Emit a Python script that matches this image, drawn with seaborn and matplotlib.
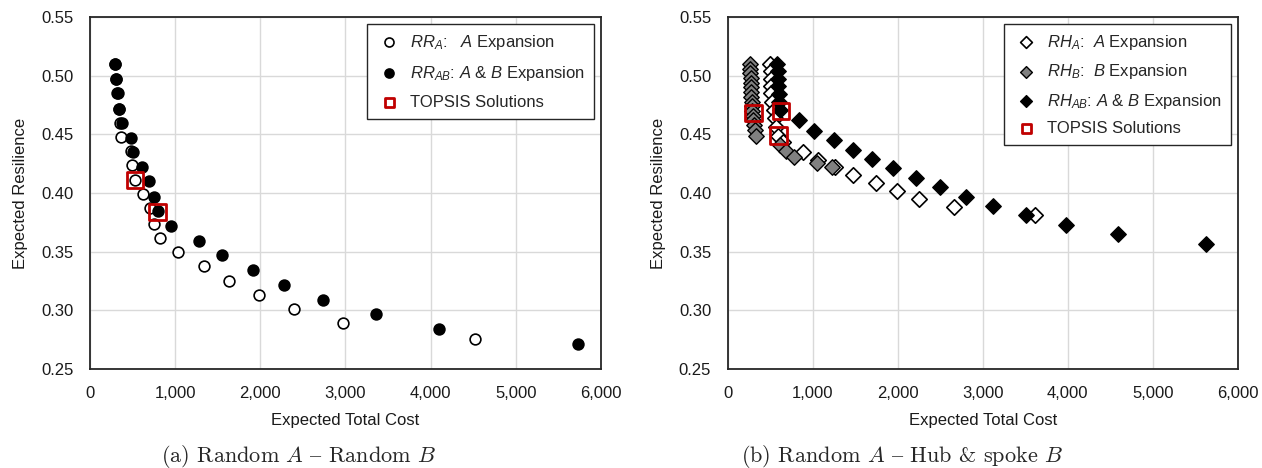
import numpy as np
import pandas as pd
import matplotlib
matplotlib.use("Agg")
import matplotlib.pyplot as plt
from matplotlib.ticker import FuncFormatter, MultipleLocator
import seaborn as sns


# (a) Random A - Random B
rr_a_cost = [296, 303, 315, 335, 355, 369, 482, 498, 529, 627,
             706, 753, 824, 1035, 1333, 1635, 1988, 2392, 2976, 4520]
rr_a_res = [0.510, 0.497, 0.485, 0.472, 0.460, 0.448, 0.436, 0.424, 0.411, 0.399,
            0.387, 0.374, 0.362, 0.350, 0.3375, 0.325, 0.313, 0.301, 0.289, 0.276]

rr_ab_cost = [298, 310, 325, 345, 376, 486, 510, 612, 690, 749,
              800, 957, 1275, 1549, 1914, 2276, 2737, 3353, 4094, 5728]
rr_ab_res = [0.510, 0.497, 0.485, 0.472, 0.460, 0.447, 0.435, 0.422, 0.410, 0.397,
             0.385, 0.372, 0.359, 0.347, 0.334, 0.3217, 0.309, 0.2967, 0.284, 0.271]

topsis_a_cost = [529, 792]
topsis_a_res = [0.411, 0.384]

# (b) Random A - Hub & spoke B
rh_a_cost = [500, 505, 508, 510, 512, 518, 540, 555, 572, 594,
             650, 882, 1066, 1263, 1475, 1742, 1989, 2252, 2656, 3610]
rh_a_res = [0.510, 0.504, 0.4976, 0.491, 0.485, 0.478, 0.471, 0.4636, 0.4565, 0.449,
            0.4437, 0.435, 0.428, 0.422, 0.415, 0.4086, 0.4018, 0.3947, 0.388, 0.381]

rh_b_cost = [262, 264, 266, 268, 270, 272, 275, 278, 282, 286,
             290, 296, 302, 310, 320, 332, 615, 682, 776, 1054, 1223]
rh_b_res = [0.510, 0.506, 0.502, 0.498, 0.494, 0.490, 0.486, 0.482, 0.478, 0.474,
            0.470, 0.466, 0.462, 0.458, 0.454, 0.449, 0.441, 0.4355, 0.4307, 0.426, 0.422]

rh_ab_cost = [575, 585, 590, 595, 600, 605, 615, 835, 1015, 1247,
              1475, 1702, 1942, 2220, 2499, 2797, 3124, 3508, 3983, 4588, 5626]
rh_ab_res = [0.510, 0.5037, 0.4973, 0.491, 0.4846, 0.478, 0.471, 0.462, 0.453, 0.445,
             0.437, 0.429, 0.421, 0.413, 0.405, 0.397, 0.389, 0.381, 0.373, 0.365, 0.3565]

topsis_b_cost = [300, 623, 595]
topsis_b_res = [0.468, 0.470, 0.449]


sns.set_theme(style="whitegrid")
plt.rcParams["font.family"] = ["Liberation Sans", "DejaVu Sans"]
plt.rcParams["mathtext.fontset"] = "custom"
plt.rcParams["mathtext.rm"] = "Liberation Sans"
plt.rcParams["mathtext.it"] = "Liberation Sans:italic"
plt.rcParams["mathtext.bf"] = "Liberation Sans:bold"
plt.rcParams["font.size"] = 12

RED = "#c00000"
FS = 12

fig = plt.figure(figsize=(12.62, 4.68), dpi=100)
ax1 = fig.add_axes([0.0713, 0.2115, 0.4049, 0.7521])
ax2 = fig.add_axes([0.5767, 0.2115, 0.4041, 0.7521])


def style_axes(ax):
    ax.set_xlim(0, 6000)
    ax.set_ylim(0.25, 0.55)
    ax.xaxis.set_major_locator(MultipleLocator(1000))
    ax.yaxis.set_major_locator(MultipleLocator(0.05))
    ax.xaxis.set_major_formatter(FuncFormatter(lambda v, p: f"{v:,.0f}"))
    ax.yaxis.set_major_formatter(FuncFormatter(lambda v, p: f"{v:.2f}"))
    ax.tick_params(axis="both", length=0, pad=12, labelsize=FS, colors="#1a1a1a")
    ax.grid(True, color="#d9d9d9", linewidth=1)
    ax.set_axisbelow(True)
    for sp in ax.spines.values():
        sp.set_visible(True)
        sp.set_color("#262626")
        sp.set_linewidth(1.3)
    ax.set_facecolor("white")
    ax.set_xlabel("Expected Total Cost", fontsize=FS, labelpad=9, color="#1a1a1a")
    ax.set_ylabel("Expected Resilience", fontsize=FS, labelpad=9, color="#1a1a1a")


# left panel
sns.scatterplot(x=rr_a_cost, y=rr_a_res, ax=ax1, marker="o", s=60, color="white",
                edgecolor="black", linewidth=1.2, zorder=3,
                label=r"$RR_A$:   $A$ Expansion")
sns.scatterplot(x=rr_ab_cost, y=rr_ab_res, ax=ax1, marker="o", s=60, color="black",
                edgecolor="black", linewidth=1.2, zorder=4,
                label=r"$RR_{AB}$: $A$ & $B$ Expansion")
sns.scatterplot(x=topsis_a_cost, y=topsis_a_res, ax=ax1, marker="s", s=140,
                color="none", edgecolor=RED, linewidth=2, zorder=5,
                label="TOPSIS Solutions")
style_axes(ax1)

# right panel
sns.scatterplot(x=rh_a_cost, y=rh_a_res, ax=ax2, marker="D", s=62, color="white",
                edgecolor="black", linewidth=1.2, zorder=3,
                label=r"$RH_A$:  $A$ Expansion")
sns.scatterplot(x=rh_b_cost, y=rh_b_res, ax=ax2, marker="D", s=62, color="#808080",
                edgecolor="black", linewidth=1.0, zorder=4,
                label=r"$RH_B$:  $B$ Expansion")
sns.scatterplot(x=rh_ab_cost, y=rh_ab_res, ax=ax2, marker="D", s=62, color="black",
                edgecolor="black", linewidth=1.0, zorder=5,
                label=r"$RH_{AB}$: $A$ & $B$ Expansion")
sns.scatterplot(x=topsis_b_cost, y=topsis_b_res, ax=ax2, marker="s", s=140,
                color="none", edgecolor=RED, linewidth=2, zorder=6,
                label="TOPSIS Solutions")
style_axes(ax2)


def make_legend(ax, sizes, spacing):
    leg = ax.legend(loc="upper right", frameon=True, fancybox=False,
                    edgecolor="#262626", framealpha=1, fontsize=FS,
                    borderaxespad=0.4, borderpad=0.55, labelspacing=spacing,
                    handlelength=1.6, handletextpad=0.45)
    leg.get_frame().set_linewidth(1.0)
    for h, s in zip(leg.legend_handles, sizes):
        h.set_sizes([s])
    return leg


make_legend(ax1, [42, 42, 45], 0.72)
make_legend(ax2, [36, 36, 36, 45], 0.62)

# captions in Computer Modern; in the cmr10 encoding "{" is the en dash
cap_kw = dict(ha="center", va="center", fontsize=16, family="cmr10",
              math_fontfamily="cm")
fig.text(299 / 1262, 1 - 456 / 468, r"(a) Random $A$ { Random $B$", **cap_kw)
fig.text(902 / 1262, 1 - 456 / 468, r"(b) Random $A$ { Hub & spoke $B$", **cap_kw)

fig.savefig("out.png", dpi=100)
